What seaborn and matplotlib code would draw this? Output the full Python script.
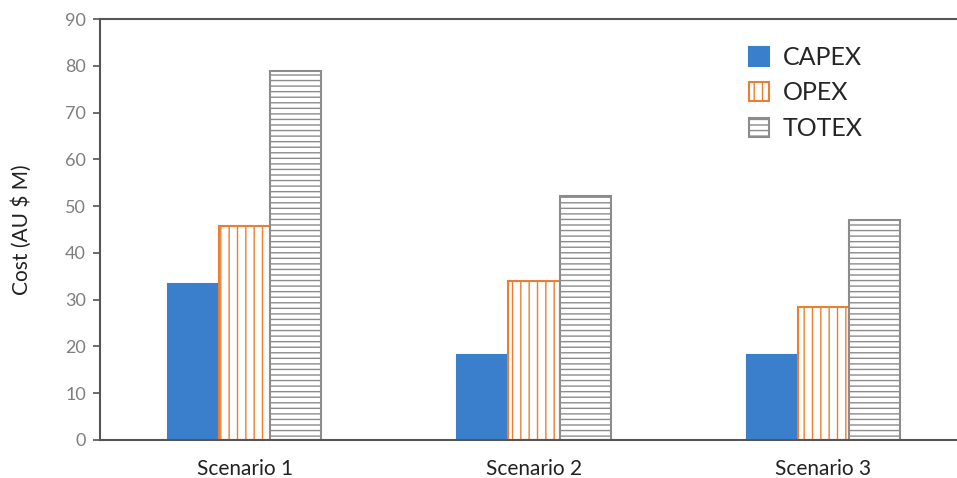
import matplotlib
matplotlib.use("Agg")
import matplotlib.pyplot as plt
from matplotlib.patches import Patch
import seaborn as sns
import pandas as pd

scenarios = ["Scenario 1", "Scenario 2", "Scenario 3"]
series = ["CAPEX", "OPEX", "TOTEX"]
capex = [33.4, 18.2, 18.2]
opex = [45.8, 34.0, 28.5]
totex = [79.0, 52.2, 47.0]
y_ticks = [0, 10, 20, 30, 40, 50, 60, 70, 80, 90]

df = pd.DataFrame({
    "Scenario": scenarios * 3,
    "Series": [s for s in series for _ in scenarios],
    "Cost": capex + opex + totex,
})

sns.set_theme(style="white")
plt.rcParams["font.family"] = ["Lato", "DejaVu Sans"]
plt.rcParams["hatch.linewidth"] = 1.0

fig = plt.figure(figsize=(9.57, 4.78), dpi=100)
ax = fig.add_axes([0.1045, 0.0795, 0.907, 0.8805])

fills = {"CAPEX": "#3a7fcb", "OPEX": "white", "TOTEX": "white"}
edges = {"CAPEX": "#3a7fcb", "OPEX": "#ed7d31", "TOTEX": "#8c8c8c"}
hatches = {"CAPEX": "", "OPEX": "||", "TOTEX": "---"}

sns.barplot(data=df, x="Scenario", y="Cost", hue="Series", order=scenarios,
            hue_order=series, palette=fills, saturation=1, width=0.53,
            ax=ax, legend=False)

for name, cont in zip(series, ax.containers):
    for bar in cont:
        bar.set_edgecolor(edges[name])
        bar.set_hatch(hatches[name])
        bar.set_linewidth(1.5)

ax.set_ylim(0, 90)
ax.set_yticks(y_ticks)
ax.set_xlim(-0.5, 2.5)
ax.set_xlabel("")
ax.set_ylabel("Cost (AU $ M)", fontsize=15, color="#222222", labelpad=24)
ax.tick_params(axis="y", left=True, length=5, width=1.2, color="#555555",
               labelsize=13, labelcolor="#7f7f7f", pad=5)
ax.tick_params(axis="x", bottom=False, labelsize=15, labelcolor="#222222", pad=8)

for side in ["left", "bottom", "top"]:
    ax.spines[side].set_color("#555555")
    ax.spines[side].set_linewidth(1.5)
ax.spines["right"].set_visible(False)

handles = [Patch(facecolor=fills[s], edgecolor=edges[s], hatch=hatches[s], linewidth=1.5)
           for s in series]
ax.legend(handles, series, loc="upper left", bbox_to_anchor=(0.722, 0.99),
          frameon=False, fontsize=18, handlelength=0.8, handleheight=0.8,
          handletextpad=0.55, labelspacing=0.5)

fig.savefig("out.png", dpi=100)
